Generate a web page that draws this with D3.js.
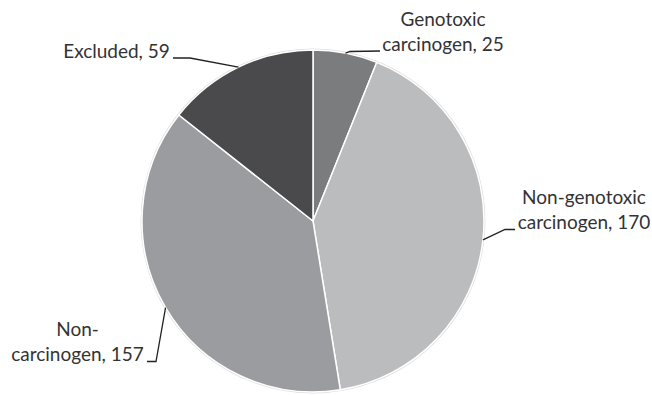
<!DOCTYPE html>
<html>
<head>
<meta charset="utf-8">
<script src="https://cdn.jsdelivr.net/npm/d3@7"></script>
<style>
  html, body { margin: 0; padding: 0; background: #fff; }
  svg text { font-family: Lato, "Open Sans", sans-serif; fill: #333; }
</style>
</head>
<body>
<svg id="chart" width="652" height="395"></svg>
<script>
// Classification outcome counts, drawn clockwise from 12 o'clock
const categories = ["Genotoxic carcinogen", "Non-genotoxic carcinogen", "Non-carcinogen", "Excluded"];
const counts = [25, 170, 157, 59];
const labelLines = [
  ["Genotoxic", "carcinogen, 25"],
  ["Non-genotoxic", "carcinogen, 170"],
  ["Non-", "carcinogen, 157"],
  ["Excluded, 59"]
];
const sliceColors = ["#7b7c7e", "#bbbcbe", "#9a9c9f", "#4a4a4c"];

const svg = d3.select("#chart");
const cx = 313, cy = 221, radius = 171;

const data = categories.map((c, i) => ({ category: c, value: counts[i], lines: labelLines[i], color: sliceColors[i] }));

const pie = d3.pie().value(d => d.value).sort(null);
const arc = d3.arc().innerRadius(0).outerRadius(radius);
const arcs = pie(data);

const g = svg.append("g").attr("transform", `translate(${cx},${cy})`);

// faint outer rim around the pie
g.append("circle").attr("r", radius + 0.8).attr("fill", "none").attr("stroke", "#dedede").attr("stroke-width", 1.2);

g.selectAll("path.slice")
  .data(arcs)
  .join("path")
  .attr("class", "slice")
  .attr("d", arc)
  .attr("fill", d => d.data.color)
  .attr("stroke", "#ffffff")
  .attr("stroke-width", 1.5)
  .attr("stroke-linejoin", "round");

// Label placement: text centre / first baseline, plus the leader-line bend
// points; each leader starts on the rim at the middle of its slice.
const labelSpec = [
  { tx: 443, ty: 26, bend: [[350, 51.5], [380, 51]] },
  { tx: 584, ty: 204, bend: [[505, 229.5], [515, 229.5]] },
  { tx: 77.5, ty: 336, bend: [[156, 361.5], [147, 361.5]] },
  { tx: 116.5, ty: 58, bend: [[190, 58], [173, 58]] }
];
const lineGap = 25;
const fontSize = 19;

arcs.forEach((a, i) => {
  const spec = labelSpec[i];
  const ang = (a.startAngle + a.endAngle) / 2;
  const px = cx + radius * Math.sin(ang);
  const py = cy - radius * Math.cos(ang);
  const pts = [[px, py], ...spec.bend];
  svg.append("path")
    .attr("d", d3.line()(pts))
    .attr("fill", "none")
    .attr("stroke", "#222")
    .attr("stroke-width", 1.3);

  const t = svg.append("text")
    .attr("text-anchor", "middle")
    .attr("font-size", fontSize);
  a.data.lines.forEach((ln, k) => {
    t.append("tspan").attr("x", spec.tx).attr("y", spec.ty + k * lineGap).text(ln);
  });
});
</script>
</body>
</html>
